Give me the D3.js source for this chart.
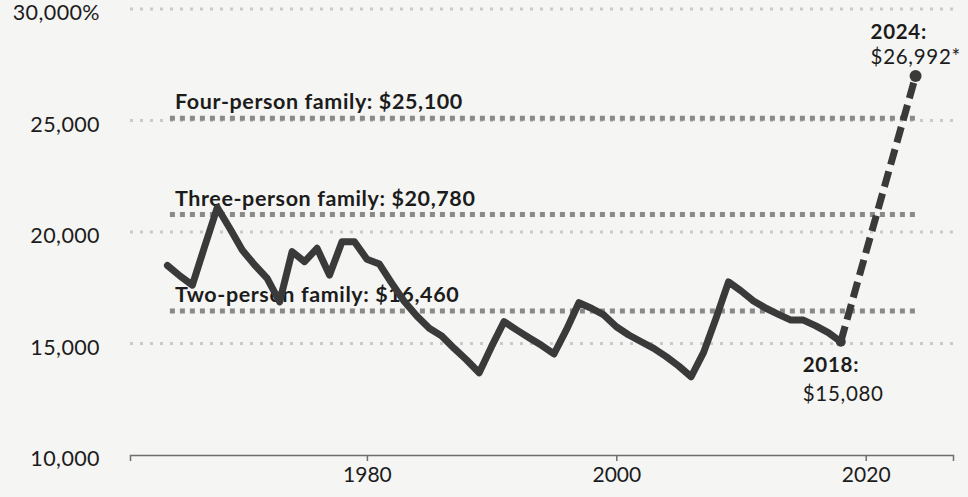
<!DOCTYPE html>
<html>
<head>
<meta charset="utf-8">
<script src="https://cdn.jsdelivr.net/npm/d3@7"></script>
<style>
  html, body { margin: 0; padding: 0; background: #f5f5f3; }
  svg { display: block; }
  text { font-family: Lato, "Noto Sans", sans-serif; fill: #1c1c1c; }
</style>
</head>
<body>
<svg id="chart" width="968" height="497"></svg>
<script>
// Annual values, 1964–2018
const years = d3.range(1964, 2019);
const values = [
  18500, 18030, 17620, 19370, 21100, 20170, 19190, 18520, 17920, 16870,
  19120, 18670, 19270, 18070, 19560, 19560, 18780, 18560, 17700, 16880,
  16230, 15680, 15340, 14780, 14260, 13690, 14870, 15980, 15610, 15260,
  14920, 14530, 15620, 16830, 16580, 16280, 15750, 15380, 15080, 14780,
  14410, 13990, 13510, 14600, 16140, 17760, 17360, 16910, 16580, 16310,
  16050, 16050, 15790, 15490, 15080
];

// Projected jump from 2018 to 2024
const projYears = [2018, 2024];
const projValues = [15080, 26992];

// Family-size reference levels
const familyLabels = ["Four-person family: $25,100", "Three-person family: $20,780", "Two-person family: $16,460"];
const familyValues = [25100, 20780, 16460];

// Axis ticks
const yTicks = [10000, 15000, 20000, 25000, 30000];
const yTickLabels = ["10,000", "15,000", "20,000", "25,000", "30,000%"];
const xTicks = [1980, 2000, 2020];

const svg = d3.select("#chart");
const x = d3.scaleLinear().domain([1961, 2027]).range([130, 953]);
const y = d3.scaleLinear().domain([10000, 30000]).range([455, 9]);

// Faint dotted gridlines (above the baseline)
svg.append("g").selectAll("line")
  .data(yTicks.slice(1))
  .join("line")
  .attr("x1", x.range()[0]).attr("x2", x.range()[1])
  .attr("y1", d => y(d)).attr("y2", d => y(d))
  .attr("stroke", "#cacac8")
  .attr("stroke-width", 3)
  .attr("stroke-dasharray", "3,7");

// Y tick labels
svg.append("g").selectAll("text")
  .data(yTicks)
  .join("text")
  .attr("x", 100)
  .attr("y", d => y(d) + 6)
  .attr("text-anchor", "end")
  .attr("dominant-baseline", "middle")
  .attr("font-size", 21.5)
  .attr("letter-spacing", 0.4)
  .text((d, i) => yTickLabels[i]);

// X axis
const xAxis = d3.axisBottom(x)
  .tickValues(xTicks)
  .tickFormat(d3.format("d"))
  .tickSize(6)
  .tickPadding(6);
const gx = svg.append("g").attr("transform", `translate(0,${y(10000)})`).call(xAxis);
gx.select(".domain").attr("stroke", "#6e6e6e").attr("stroke-width", 1.5);
gx.selectAll(".tick line").attr("stroke", "#6e6e6e").attr("stroke-width", 1.5);
gx.selectAll(".tick text")
  .attr("font-size", 21)
  .attr("font-family", "Lato, 'Noto Sans', sans-serif")
  .attr("fill", "#1c1c1c");

// Family reference lines and labels
svg.append("g").selectAll("line")
  .data(familyValues)
  .join("line")
  .attr("x1", x(1964.2)).attr("x2", x(2024.1))
  .attr("y1", d => y(d)).attr("y2", d => y(d))
  .attr("stroke", "#8a8a88")
  .attr("stroke-width", 5)
  .attr("stroke-dasharray", "5,5");

svg.append("g").selectAll("text")
  .data(familyValues)
  .join("text")
  .attr("x", 175)
  .attr("y", d => y(d) - 9)
  .attr("font-size", 21.5)
  .attr("font-weight", 700)
  .attr("letter-spacing", 0.6)
  .text((d, i) => familyLabels[i]);

// Main series
const line = d3.line().x(d => x(d[0])).y(d => y(d[1]));
svg.append("path")
  .datum(years.map((yr, i) => [yr, values[i]]))
  .attr("d", line)
  .attr("fill", "none")
  .attr("stroke", "#3a3a3a")
  .attr("stroke-width", 7)
  .attr("stroke-linejoin", "round")
  .attr("stroke-linecap", "round");

// Projection (dashed)
svg.append("path")
  .datum(projYears.map((yr, i) => [yr, projValues[i]]))
  .attr("d", line)
  .attr("fill", "none")
  .attr("stroke", "#3a3a3a")
  .attr("stroke-width", 7)
  .attr("stroke-dasharray", "16,7");

svg.append("g").selectAll("circle")
  .data(projYears.map((yr, i) => [yr, projValues[i]]))
  .join("circle")
  .attr("cx", d => x(d[0]))
  .attr("cy", d => y(d[1]))
  .attr("r", (d, i) => i === 0 ? 5 : 6)
  .attr("fill", "#3a3a3a");

// Endpoint annotations
const notes = [
  { yr: 2018, val: 15080, head: "2018:", body: "$15,080", dx: -38, headY: 372, bodyY: 401 },
  { yr: 2024, val: 26992, head: "2024:", body: "$26,992*", dx: -45, headY: 39, bodyY: 64 }
];
const ng = svg.append("g");
notes.forEach(n => {
  ng.append("text")
    .attr("x", x(n.yr) + n.dx)
    .attr("y", n.headY)
    .attr("font-size", 20.5)
    .attr("font-weight", 700)
    .attr("letter-spacing", 0.7)
    .text(n.head);
  ng.append("text")
    .attr("x", x(n.yr) + n.dx)
    .attr("y", n.bodyY)
    .attr("font-size", 20.5)
    .attr("letter-spacing", 0.7)
    .text(n.body);
});
</script>
</body>
</html>
